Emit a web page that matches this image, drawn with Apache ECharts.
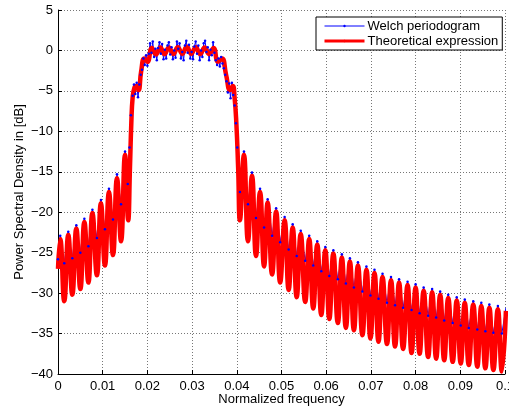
<!DOCTYPE html>
<html>
<head>
<meta charset="utf-8">
<script src="https://cdn.jsdelivr.net/npm/echarts@6/dist/echarts.min.js"></script>
<style>
html,body{margin:0;padding:0;background:#fff;overflow:hidden;}
#chart{width:509px;height:408px;}
</style>
</head>
<body>
<div id="chart"></div>
<script>
// Theoretical expression (red): [normalized frequency, dB]
const redLeftLobes = [
  [0,-27.0],[0.0005,-23.3],[0.0014,-31.0],[0.0023,-22.8],[0.0032,-30.2],[0.0041,-22.0],
  [0.0050,-29.5],[0.0059,-21.2],[0.0068,-28.7],[0.0077,-20.1],[0.0087,-27.8],[0.0096,-18.9],
  [0.0105,-26.6],[0.0114,-17.5],[0.0123,-25.3],[0.0132,-15.8],[0.0141,-23.6],[0.0150,-12.9],
  [0.0157,-21.0]
];
const redMainLobe = [
  [0.0161,-14.5],[0.0164,-9.0],[0.0167,-5.8],[0.0171,-4.6],[0.0175,-4.4],[0.0180,-4.9],
  [0.0186,-2.6],[0.0193,-1.0],[0.0200,-1.4],[0.0210,0.3],[0.0219,-0.5],[0.0229,0.35],
  [0.0238,-0.45],[0.0248,0.35],[0.0258,-0.45],[0.0268,0.4],[0.0278,-0.4],[0.0288,0.45],
  [0.0298,-0.4],[0.0308,0.4],[0.0318,-0.45],[0.0328,0.35],[0.0338,-0.45],[0.0348,0.3],
  [0.0358,-1.4],[0.0367,-1.0],[0.0376,-3.0],[0.0385,-4.9],[0.0391,-4.4],[0.0395,-5.8],
  [0.0399,-9.0],[0.0403,-14.5]
];
const redRightLobes = [
  [0.0407,-21.0],[0.0416,-12.9],[0.0425,-23.6],[0.0434,-15.5],[0.0443,-25.4],[0.0452,-17.5],
  [0.0461,-26.7],[0.0469,-18.8],[0.0479,-27.7],[0.0488,-19.9],[0.0497,-28.7],[0.0507,-21.0],
  [0.0516,-29.6],[0.0525,-21.9],[0.0534,-30.5],[0.0543,-22.7],[0.0553,-31.1],[0.0562,-23.3],
  [0.0571,-31.9],[0.0580,-24.0],[0.0589,-32.7],[0.0598,-24.7],[0.0607,-33.2],[0.0616,-25.1],
  [0.0626,-33.7],[0.0635,-25.6],[0.0644,-34.3],[0.0653,-26.1],[0.0662,-34.6],[0.0671,-26.6],
  [0.0681,-35.2],[0.0690,-27.1],[0.0699,-35.6],[0.0708,-27.5],[0.0717,-36.0],[0.0726,-28.0],
  [0.0736,-36.3],[0.0745,-28.4],[0.0754,-36.6],[0.0763,-28.7],[0.0772,-36.9],[0.0782,-29.0],
  [0.0791,-37.4],[0.0800,-29.3],[0.0809,-37.5],[0.0818,-29.7],[0.0828,-37.9],[0.0837,-29.9],
  [0.0846,-38.1],[0.0855,-30.2],[0.0864,-38.3],[0.0873,-30.6],[0.0883,-38.5],[0.0892,-30.9],
  [0.0901,-38.7],[0.0910,-31.2],[0.0919,-38.9],[0.0929,-31.4],[0.0938,-39.1],[0.0947,-31.6],
  [0.0956,-39.3],[0.0965,-31.8],[0.0974,-39.5],[0.0984,-32.0],[0.0993,-39.7],[0.1002,-32.2]
];
// Welch periodogram (blue): [normalized frequency, dB]
const welchLeft = [
  [0,-25.8],[0.0005,-22.9],[0.0014,-26.3],[0.0023,-22.4],[0.0032,-25.7],[0.0041,-21.6],
  [0.0050,-25.0],[0.0059,-20.8],[0.0068,-24.2],[0.0077,-19.7],[0.0087,-23.2],[0.0096,-18.5],
  [0.0105,-22.1],[0.0114,-17.1],[0.0123,-20.9],[0.0132,-15.3],[0.0141,-19.0],[0.0150,-12.5],
  [0.0156,-16.5],[0.0160,-12.0],[0.0163,-8.0]
];
const welchMain = [
  [0.0167,-5.6],[0.0170,-4.2],[0.0173,-5.4],[0.0176,-4.0],[0.0179,-5.8],[0.0182,-4.2],
  [0.0185,-3.0],[0.0188,-2.4],[0.0191,-1.0],[0.0194,-1.8],[0.0197,-0.6],[0.0200,-1.9],
  [0.0203,-0.4],[0.0206,0.9],[0.0209,-0.3],[0.0212,1.1],[0.0215,-0.8],[0.0218,0.2],
  [0.0221,-1.2],[0.0224,0.3],[0.0227,1.0],[0.0230,-0.4],[0.0233,0.8],[0.0236,-1.1],
  [0.0239,0.1],[0.0242,-1.0],[0.0245,0.6],[0.0248,1.0],[0.0251,-0.5],[0.0254,0.4],
  [0.0257,-1.1],[0.0260,0.0],[0.0263,-0.9],[0.0266,1.1],[0.0269,0.2],[0.0272,0.9],
  [0.0275,-1.0],[0.0278,-0.2],[0.0281,-1.2],[0.0284,0.6],[0.0287,1.2],[0.0290,-0.3],
  [0.0293,0.7],[0.0296,-1.0],[0.0299,-0.2],[0.0302,-1.1],[0.0305,0.5],[0.0308,1.1],
  [0.0311,-0.4],[0.0314,0.6],[0.0317,-1.2],[0.0320,0.0],[0.0323,-0.8],[0.0326,0.9],
  [0.0329,1.2],[0.0332,-0.2],[0.0335,0.4],[0.0338,-1.2],[0.0341,0.1],[0.0344,-0.6],
  [0.0347,1.0],[0.0350,-0.3],[0.0353,-1.2],[0.0356,-1.8],[0.0359,-1.0],[0.0362,-2.0],
  [0.0365,-0.8],[0.0368,-1.6],[0.0371,-2.2],[0.0374,-3.0],[0.0377,-3.8],[0.0380,-5.2],
  [0.0383,-4.1],[0.0386,-5.9],[0.0389,-4.0],[0.0392,-5.5],[0.0395,-6.8],[0.0398,-9.0],
  [0.0401,-12.0]
];
const welchRight = [
  [0.0407,-17.5],[0.0416,-12.5],[0.0425,-19.0],[0.0434,-15.1],[0.0443,-20.7],[0.0452,-17.1],
  [0.0461,-21.9],[0.0469,-18.4],[0.0479,-22.9],[0.0488,-19.5],[0.0497,-23.7],[0.0507,-20.6],
  [0.0516,-24.6],[0.0525,-21.5],[0.0534,-25.4],[0.0543,-22.3],[0.0553,-26.0],[0.0562,-22.9],
  [0.0571,-26.6],[0.0580,-23.6],[0.0589,-27.3],[0.0598,-24.3],[0.0607,-27.9],[0.0616,-24.7],
  [0.0626,-28.3],[0.0635,-25.2],[0.0644,-28.8],[0.0653,-25.7],[0.0662,-29.3],[0.0671,-26.2],
  [0.0681,-29.8],[0.0690,-26.7],[0.0699,-30.3],[0.0708,-27.1],[0.0717,-30.7],[0.0726,-27.6],
  [0.0736,-31.2],[0.0745,-28.0],[0.0754,-31.5],[0.0763,-28.3],[0.0772,-31.8],[0.0782,-28.6],
  [0.0791,-32.1],[0.0800,-28.9],[0.0809,-32.5],[0.0818,-29.3],[0.0828,-32.8],[0.0837,-29.5],
  [0.0846,-33.0],[0.0855,-29.8],[0.0864,-33.4],[0.0873,-30.2],[0.0883,-33.7],[0.0892,-30.5],
  [0.0901,-34.0],[0.0910,-30.8],[0.0919,-34.3],[0.0929,-31.0],[0.0938,-34.5],[0.0947,-31.2],
  [0.0956,-34.7],[0.0965,-31.4],[0.0974,-34.9],[0.0984,-31.6],[0.0993,-35.0],[0.1002,-31.8]
];
const seriesNames = ['Welch periodogram', 'Theoretical expression'];
const xTicks = {min: 0, max: 0.1, step: 0.01};
const yTicks = {min: -40, max: 5, step: 5};

const FONT = 'Liberation Sans, Arial, Helvetica, sans-serif';
const chart = echarts.init(document.getElementById('chart'), null, {renderer: 'canvas'});
const gridLine = {show: true, lineStyle: {color: '#777', width: 1, type: [1, 2]}};
chart.setOption({
  animation: false,
  backgroundColor: '#fff',
  textStyle: {fontFamily: FONT},
  grid: {left: 58, right: 4, top: 10, bottom: 34, containLabel: false, outerBoundsMode: 'none'},
  legend: {
    data: [
      {name: seriesNames[0], lineStyle: {width: 1, color: '#0000ff'}, itemStyle: {color: '#0000ff'}},
      {name: seriesNames[1], lineStyle: {width: 3, color: '#ff0000'}, itemStyle: {color: '#ff0000'}}
    ],
    orient: 'vertical',
    left: 316, top: 17,
    padding: [2, 4, 2, 7],
    itemGap: 1,
    itemWidth: 40, itemHeight: 3,
    backgroundColor: '#fff',
    borderColor: '#000', borderWidth: 1, borderRadius: 0,
    textStyle: {color: '#000', fontSize: 13, lineHeight: 14, fontFamily: FONT, padding: [0, 0, 0, -2]}
  },
  xAxis: {
    type: 'value', min: xTicks.min, max: xTicks.max, interval: xTicks.step,
    name: 'Normalized frequency', nameLocation: 'middle', nameGap: 19, nameMoveOverlap: false,
    nameTextStyle: {color: '#000', fontSize: 13, fontFamily: FONT},
    axisLine: {show: true, onZero: false, lineStyle: {color: '#000', width: 1}},
    axisTick: {show: true, inside: true, length: 4, lineStyle: {color: '#000'}},
    axisLabel: {color: '#000', fontSize: 13, fontFamily: FONT, margin: 6,
      formatter: v => String(Math.round(v * 100) / 100)},
    splitLine: gridLine
  },
  yAxis: {
    type: 'value', min: yTicks.min, max: yTicks.max, interval: yTicks.step,
    name: 'Power Spectral Density in [dB]', nameLocation: 'middle', nameGap: 32, nameMoveOverlap: false,
    nameTextStyle: {color: '#000', fontSize: 13, fontFamily: FONT},
    axisLine: {show: true, onZero: false, lineStyle: {color: '#000', width: 1}},
    axisTick: {show: true, inside: true, length: 4, lineStyle: {color: '#000'}},
    axisLabel: {color: '#000', fontSize: 13, fontFamily: FONT, margin: 5,
      formatter: v => String(v).replace('-', '\u2212')},
    splitLine: gridLine
  },
  series: [
    {
      name: seriesNames[0], type: 'line',
      data: welchLeft.concat(welchMain, welchRight),
      smooth: false, clip: true,
      symbol: 'circle', symbolSize: 2.5, showSymbol: true,
      lineStyle: {color: '#0000ff', width: 1},
      itemStyle: {color: '#0000ff'},
      emphasis: {disabled: true}
    },
    {
      name: seriesNames[1], type: 'line',
      data: redLeftLobes.concat(redMainLobe, redRightLobes),
      smooth: true, clip: true,
      symbol: 'none', showSymbol: false,
      lineStyle: {color: '#ff0000', width: 4.5},
      itemStyle: {color: '#ff0000'},
      emphasis: {disabled: true}
    }
  ]
});
</script>
</body>
</html>
